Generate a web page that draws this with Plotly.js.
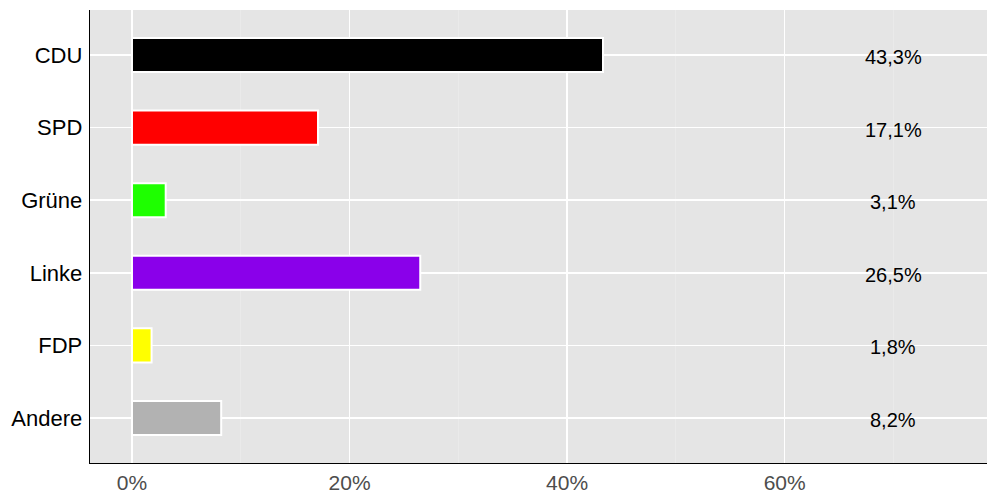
<!DOCTYPE html>
<html><head><meta charset="utf-8">
<script src="https://cdn.plot.ly/plotly-3.0.1.min.js"></script>
<style>html,body{margin:0;padding:0;background:#fff}#chart{width:1000px;height:500px}</style>
</head><body><div id="chart"></div>
<script>
const parties = ["CDU","SPD","Grüne","Linke","FDP","Andere"];
const shares = [43.3, 17.1, 3.1, 26.5, 1.8, 8.2];
const labels = ["43,3%","17,1%","3,1%","26,5%","1,8%","8,2%"];
const colors = ["#000000","#ff0000","#1eff00","#8a00ea","#ffff00","#b2b2b2"];
const xTickVals = [0,20,40,60];
const xTickText = ["0%","20%","40%","60%"];

const font = "Liberation Sans, Arial, Helvetica, sans-serif";
const trace = {
  type: "bar", orientation: "h",
  y: parties, x: shares,
  width: 0.47,
  marker: {color: colors, line: {color: "#ffffff", width: 2}},
  hoverinfo: "none"
};
const annotations = parties.map((p, i) => ({
  x: 70, y: p, xref: "x", yref: "y", text: labels[i], showarrow: false,
  font: {family: font, size: 20, color: "#000"}, yshift: -2
}));
const layout = {
  width: 1000, height: 500,
  margin: {l: 90, r: 13, t: 10, b: 37},
  paper_bgcolor: "#ffffff", plot_bgcolor: "#e5e5e5",
  showlegend: false,
  bargap: 0.5,
  xaxis: {
    range: [-3.86, 78.6], tickvals: xTickVals, ticktext: xTickText,
    showgrid: true, gridcolor: "#ffffff", gridwidth: 1.6,
    minor: {dtick: 10, tick0: 10, showgrid: true, gridcolor: "#eaeaea", gridwidth: 1},
    showline: true, linecolor: "#000", linewidth: 1.3, zeroline: false,
    ticks: "", tickfont: {family: font, size: 21, color: "#4d4d4d"}
  },
  yaxis: {
    categoryorder: "array", categoryarray: parties, autorange: false, range: [5.62, -0.62],
    showgrid: true, gridcolor: "#ffffff", gridwidth: 1.6,
    showline: true, linecolor: "#000", linewidth: 1.3, zeroline: false,
    ticks: "", ticklen: 0, ticklabelstandoff: 2, tickfont: {family: font, size: 22, color: "#000"}
  },
  annotations: annotations
};
Plotly.newPlot("chart", [trace], layout, {displayModeBar: false, staticPlot: true});
</script></body></html>
